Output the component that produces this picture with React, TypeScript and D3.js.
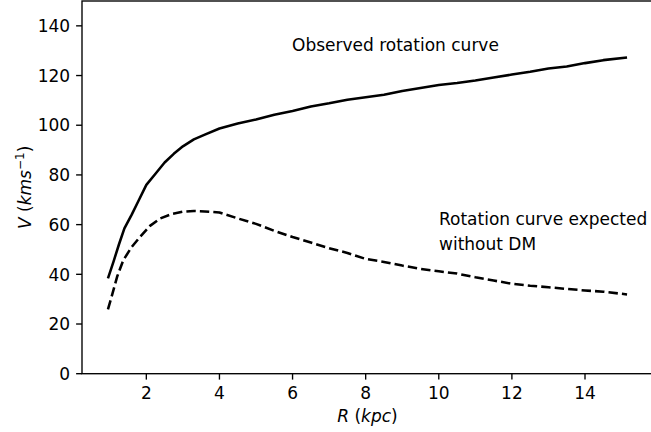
import React from "react";
import * as d3 from "d3";

const rObserved = [0.95, 1.1, 1.25, 1.4, 1.6, 1.8, 2.0, 2.25, 2.5, 2.75, 3.0, 3.3, 3.6, 4.0, 4.5, 5.0, 5.5, 6.0, 6.5, 7.0, 7.5, 8.0, 8.5, 9.0, 9.5, 10.0, 10.5, 11.0, 11.5, 12.0, 12.5, 13.0, 13.5, 14.0, 14.5, 15.15];
const vObserved = [38.4, 45, 52, 58.5, 64, 70, 76, 80.5, 85, 88.5, 91.5, 94.3, 96.2, 98.7, 100.7, 102.3, 104.2, 105.7, 107.5, 108.8, 110.3, 111.3, 112.3, 113.8, 115, 116.2, 117, 118, 119.2, 120.4, 121.5, 122.8, 123.6, 125, 126.2, 127.3];

const rExpected = [0.95, 1.05, 1.2, 1.37, 1.6, 1.83, 2.1, 2.38, 2.7, 3.0, 3.3, 3.6, 4.0, 4.5, 5.0, 5.5, 6.0, 6.5, 7.0, 7.5, 8.0, 8.5, 9.0, 9.5, 10.0, 10.5, 11.0, 11.5, 12.0, 12.5, 13.0, 13.5, 14.0, 14.5, 15.15];
const vExpected = [25.9, 31, 39, 45.7, 51, 55.1, 59.5, 62.5, 64.3, 65.2, 65.5, 65.3, 64.9, 62.5, 60.3, 57.5, 55, 52.8, 50.5, 48.6, 46.2, 45, 43.5, 42.2, 41.2, 40.3, 38.8, 37.5, 36.2, 35.4, 34.8, 34.1, 33.5, 33, 31.9];

const xTicks = [2, 4, 6, 8, 10, 12, 14];
const yTicks = [0, 20, 40, 60, 80, 100, 120, 140];

const labelObserved = "Observed rotation curve";
const labelExpected = ["Rotation curve expected", "without DM"];

export default function App() {
  const W = 651, H = 432;
  const left = 82, right = 653, top = 1, bottom = 373.7;
  const font = "DejaVu Sans";
  const fs = 17;
  const x = d3.scaleLinear().domain([0.24, 15.86]).range([left, right]);
  const y = d3.scaleLinear().domain([0, 150]).range([bottom, top]);
  const line = d3.line<[number, number]>().x(d => x(d[0])).y(d => y(d[1]));
  const obs = rObserved.map((r, i) => [r, vObserved[i]] as [number, number]);
  const exp = rExpected.map((r, i) => [r, vExpected[i]] as [number, number]);
  const tl = 5.9, pad = 5.9;
  return (
    <svg width={W} height={H} style={{ position: "absolute", left: 0, top: 0, background: "#fff" }} fontFamily={font}>
      <rect x={0} y={0} width={W} height={H} fill="#fff" />
      <path d={line(obs) || ""} fill="none" stroke="#000" strokeWidth={2.55} strokeLinejoin="round" strokeLinecap="butt" />
      <path d={line(exp) || ""} fill="none" stroke="#000" strokeWidth={2.55} strokeDasharray="9.4,4.1" strokeLinejoin="round" />
      {/* spines */}
      <rect x={left} y={top} width={right - left} height={bottom - top} fill="none" stroke="#000" strokeWidth={1.36} />
      {xTicks.map(t => (
        <g key={"x" + t}>
          <line x1={x(t)} x2={x(t)} y1={bottom} y2={bottom + tl} stroke="#000" strokeWidth={1.36} />
          <text x={x(t)} y={bottom + tl + pad + 13} fontSize={fs} textAnchor="middle" fill="#000">{t}</text>
        </g>
      ))}
      {yTicks.map(t => (
        <g key={"y" + t}>
          <line x1={left - tl} x2={left} y1={y(t)} y2={y(t)} stroke="#000" strokeWidth={1.36} />
          <text x={left - tl - pad} y={y(t) + 6.2} fontSize={fs} textAnchor="end" fill="#000">{t}</text>
        </g>
      ))}
      <text x={(left + right) / 2} y={422} fontSize={fs} textAnchor="middle" fill="#000">
        <tspan fontStyle="italic">R</tspan>
        <tspan> (</tspan>
        <tspan fontStyle="italic">kpc</tspan>
        <tspan>)</tspan>
      </text>
      <text transform={`translate(31,${(top + bottom) / 2}) rotate(-90)`} fontSize={fs} textAnchor="middle" fill="#000">
        <tspan fontStyle="italic">V</tspan>
        <tspan> (</tspan>
        <tspan fontStyle="italic">kms</tspan>
        <tspan dy={-7} fontSize={12}>−1</tspan>
        <tspan dy={7}>)</tspan>
      </text>
      <text x={292} y={51} fontSize={fs} fill="#000">{labelObserved}</text>
      <text x={439} y={225} fontSize={fs} fill="#000">{labelExpected[0]}</text>
      <text x={439} y={250} fontSize={fs} fill="#000">{labelExpected[1]}</text>
    </svg>
  );
}
